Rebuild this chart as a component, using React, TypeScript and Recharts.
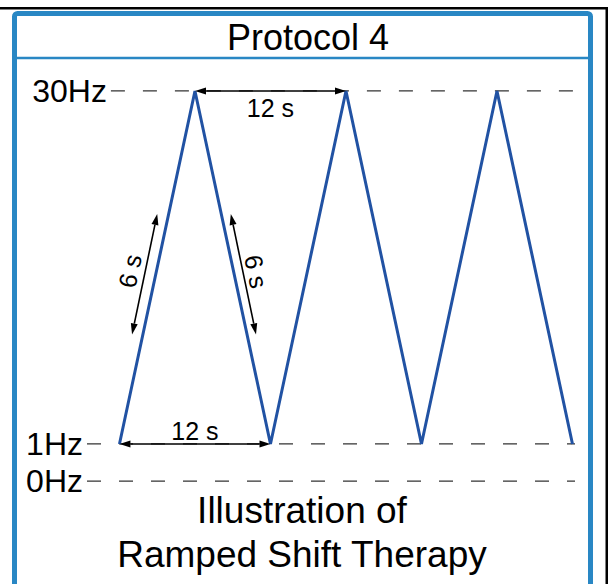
import React from 'react';
import { LineChart, Line, XAxis, YAxis, ReferenceLine } from 'recharts';

// ramp points: seconds -> Hz
const times = [0, 6, 12, 18, 24, 30, 36];
const freqs = [1, 30, 1, 30, 1, 30, 1];

// frequency levels. 0Hz sits just under 1Hz on a broken axis, so it gets its own slot
const levelValues = [30, 1, -2.05];
const levelLabels = ['30Hz', '1Hz', '0Hz'];

// duration arrows, [seconds, Hz]
const arrowLabels = ['12 s', '12 s', '6 s', '6 s'];
const arrowStarts = [[6, 30], [0, 1], [1, 10], [8.85, 19.9]];
const arrowEnds = [[18, 30], [12, 1], [3, 19.9], [10.85, 10]];

const titleText = 'Protocol 4';
const captionLines = ['Illustration of', 'Ramped Shift Therapy'];

const data = times.map((t, i) => ({ t, f: freqs[i] }));

const FONT = '"Liberation Sans", Arial, sans-serif';
const BLUE_LINE = '#2152a3';
const FRAME = '#2987c4';
const X_DOMAIN = [-2.58, 36.2];
const labelOffsets = [-17, 13, 15, 13];

const Arrow = (props: any) => {
  const { x1, y1, x2, y2, text, off } = props;
  const dx = x2 - x1;
  const dy = y2 - y1;
  const len = Math.hypot(dx, dy) || 1;
  const ux = dx / len;
  const uy = dy / len;
  const head = 11;
  const half = 3.5;
  const tri = (tx: number, ty: number, ex: number, ey: number) => {
    const bx = tx - ex * head;
    const by = ty - ey * head;
    return `${tx},${ty} ${bx - ey * half},${by + ex * half} ${bx + ey * half},${by - ex * half}`;
  };
  const a = Math.atan2(dy, dx);
  const mx = (x1 + x2) / 2 + Math.sin(a) * off;
  const my = (y1 + y2) / 2 - Math.cos(a) * off;
  return (
    <g>
      <line
        x1={x1 + ux * head}
        y1={y1 + uy * head}
        x2={x2 - ux * head}
        y2={y2 - uy * head}
        stroke="#000"
        strokeWidth={1.6}
      />
      <polygon points={tri(x1, y1, -ux, -uy)} fill="#000" />
      <polygon points={tri(x2, y2, ux, uy)} fill="#000" />
      <text
        x={mx}
        y={my}
        transform={`rotate(${(a * 180) / Math.PI} ${mx} ${my})`}
        textAnchor="middle"
        dominantBaseline="central"
        fontSize={25}
        fontFamily={FONT}
        fill="#000"
      >
        {text}
      </text>
    </g>
  );
};

const App: React.FC = () => {
  return (
    <div style={{ position: 'absolute', left: 0, top: 0, width: 610, height: 584, overflow: 'hidden', background: '#fff', fontFamily: FONT }}>
      <svg width={610} height={584} style={{ position: 'absolute', left: 0, top: 0 }}>
        <rect x={0} y={7} width={608} height={2.5} fill="#000" />
        <rect x={605.5} y={7} width={2.5} height={580} fill="#000" />
        <rect x={14.5} y={13.5} width={576} height={600} rx={3} fill="#fff" stroke={FRAME} strokeWidth={5} />
        <line x1={17} y1={58} x2={588} y2={58} stroke={FRAME} strokeWidth={2.5} />
        <text x={308} y={50} textAnchor="middle" fontSize={36} fontFamily={FONT} fill="#000">
          {titleText}
        </text>
        {captionLines.map((s, i) => (
          <text key={s} x={302} y={523 + i * 44} textAnchor="middle" fontSize={37} fontFamily={FONT} fill="#000">
            {s}
          </text>
        ))}
      </svg>
      <div style={{ position: 'absolute', left: 0, top: 0 }}>
        <LineChart width={610} height={584} data={data} margin={{ top: 80, right: 35, bottom: 95, left: 87 }}>
          <XAxis type="number" dataKey="t" domain={X_DOMAIN} hide allowDataOverflow />
          <YAxis type="number" domain={[-2.7, 30.9]} hide allowDataOverflow />
          {levelValues.map((v, i) => (
            <ReferenceLine
              key={levelLabels[i]}
              segment={[
                { x: i === 0 ? -0.68 : X_DOMAIN[0], y: v },
                { x: X_DOMAIN[1], y: v },
              ]}
              stroke="#333"
              strokeWidth={1.3}
              strokeDasharray="14 18"
              label={{ value: levelLabels[i], position: 'left', offset: 4, fontSize: 32, fill: '#000', fontFamily: FONT }}
            />
          ))}
          <Line
            type="linear"
            dataKey="f"
            stroke={BLUE_LINE}
            strokeWidth={3}
            dot={false}
            activeDot={false}
            isAnimationActive={false}
          />
          {arrowLabels.map((lab, i) => (
            <ReferenceLine
              key={`arrow-${i}`}
              segment={[
                { x: arrowStarts[i][0], y: arrowStarts[i][1] },
                { x: arrowEnds[i][0], y: arrowEnds[i][1] },
              ]}
              shape={(p: any) => <Arrow {...p} text={lab} off={labelOffsets[i]} />}
            />
          ))}
        </LineChart>
      </div>
    </div>
  );
};

export default App;
